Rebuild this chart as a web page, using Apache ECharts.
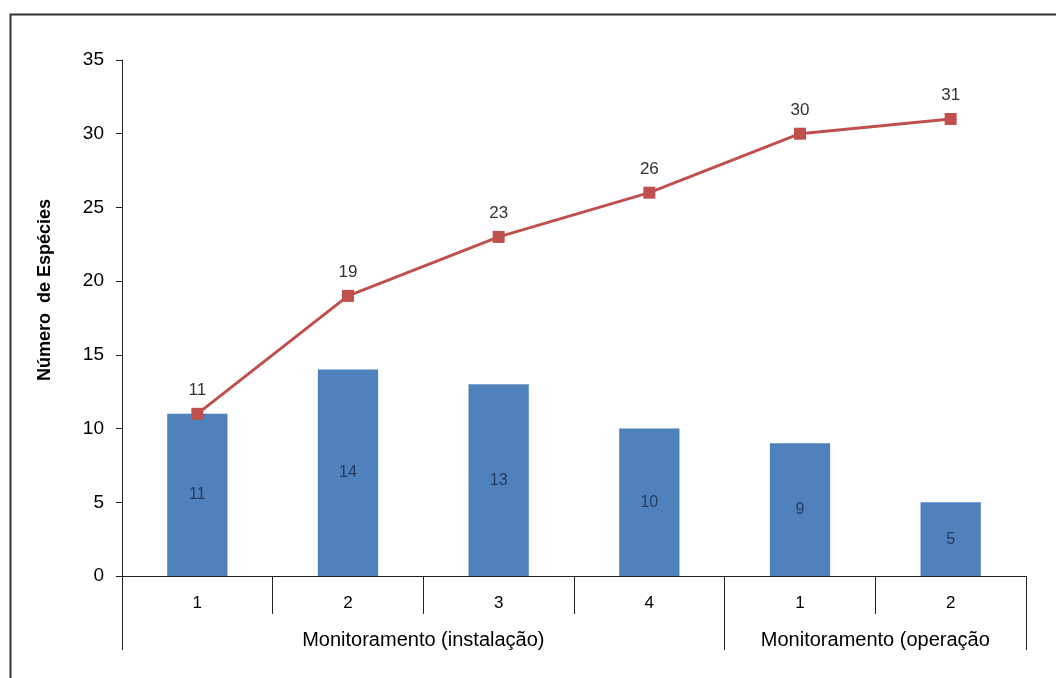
<!DOCTYPE html>
<html>
<head>
<meta charset="utf-8">
<script src="https://cdn.jsdelivr.net/npm/echarts@6/dist/echarts.min.js"></script>
<style>
  html, body { margin: 0; padding: 0; background: #fff; }
  #chart { width: 1056px; height: 678px; }
</style>
</head>
<body>
<div id="chart"></div>
<script>
// Monitoring campaigns (grouped along the x axis)
const categories = ['1', '2', '3', '4', '1', '2'];
const groupNames = ['Monitoramento (instalação)', 'Monitoramento (operação'];
const groupSizes = [4, 2];

// Species recorded per campaign (bars) and cumulative species (line)
const speciesPerCampaign = [11, 14, 13, 10, 9, 5];
const cumulativeSpecies = [11, 19, 23, 26, 30, 31];

const yTicks = [0, 5, 10, 15, 20, 25, 30, 35];

// group boundaries and centres in category units
const groupEdges = [0];
groupSizes.forEach(s => groupEdges.push(groupEdges[groupEdges.length - 1] + s));
const groupCenters = groupSizes.map((s, i) => groupEdges[i] + s / 2);

const FONT = '"Liberation Sans", Arial, sans-serif';
const AXIS_COLOR = '#222';

const chart = echarts.init(document.getElementById('chart'));
chart.setOption({
  animation: false,
  backgroundColor: '#fff',
  graphic: [{
    type: 'rect',
    left: 8, top: 12,
    shape: { width: 1200, height: 800 },
    style: { fill: 'none', stroke: '#333', lineWidth: 2 },
    silent: true, z: -1
  }],
  grid: { left: 122, top: 60, right: 30, bottom: 102, containLabel: false },
  xAxis: [{
    type: 'category',
    data: categories,
    boundaryGap: true,
    axisLine: { show: true, lineStyle: { color: AXIS_COLOR, width: 1 } },
    axisTick: { show: true, alignWithLabel: false, length: 38, lineStyle: { color: AXIS_COLOR, width: 1 } },
    axisLabel: { color: '#000', fontFamily: FONT, fontSize: 17, margin: 19 },
    splitLine: { show: false }
  }, {
    type: 'value',
    position: 'bottom',
    min: 0,
    max: categories.length,
    axisLine: { show: false },
    axisTick: { show: true, length: 74, customValues: groupEdges, lineStyle: { color: AXIS_COLOR, width: 1 } },
    axisLabel: {
      show: true,
      customValues: groupCenters,
      margin: 54,
      color: '#000', fontFamily: FONT, fontSize: 20,
      formatter: v => {
        const i = groupCenters.indexOf(v);
        return i >= 0 ? groupNames[i] : '';
      }
    },
    splitLine: { show: false }
  }],
  yAxis: {
    type: 'value',
    min: yTicks[0],
    max: yTicks[yTicks.length - 1],
    interval: yTicks[1] - yTicks[0],
    name: 'Número  de Espécies',
    nameLocation: 'middle',
    nameRotate: 90,
    nameGap: 68,
    nameTextStyle: {
      color: '#000', fontFamily: FONT, fontSize: 18, fontWeight: 'bold',
      padding: [0, 0, 0, 56]
    },
    axisLine: { show: true, lineStyle: { color: AXIS_COLOR, width: 1 } },
    axisTick: { show: true, inside: false, length: 6, lineStyle: { color: AXIS_COLOR, width: 1 } },
    axisLabel: { color: '#000', fontFamily: FONT, fontSize: 19, margin: 18 },
    splitLine: { show: false }
  },
  series: [{
    type: 'bar',
    data: speciesPerCampaign,
    barWidth: '40%',
    itemStyle: { color: '#4F81BD' },
    label: {
      show: true,
      position: 'inside',
      color: '#253a5e',
      fontFamily: FONT,
      fontSize: 16
    },
    z: 2
  }, {
    type: 'line',
    data: cumulativeSpecies,
    symbol: 'rect',
    symbolSize: 12,
    lineStyle: { color: '#C0504D', width: 3 },
    itemStyle: { color: '#C0504D' },
    label: {
      show: true,
      position: 'top',
      distance: 9,
      color: '#333',
      fontFamily: FONT,
      fontSize: 17
    },
    z: 3
  }]
});
</script>
</body>
</html>
